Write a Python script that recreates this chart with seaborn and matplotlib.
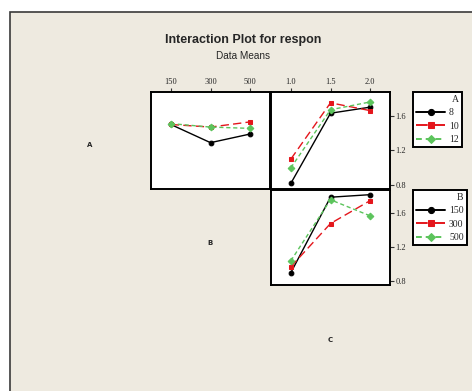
import matplotlib
matplotlib.use("Agg")
import matplotlib.pyplot as plt
import seaborn as sns
import pandas as pd
from matplotlib.patches import Rectangle

# ---- data ----
B_levels = ["150", "300", "500"]
C_levels = ["1.0", "1.5", "2.0"]
A_levels = ["8", "10", "12"]

# A x B (response vs B, one line per A)
AB_8 = [1.50, 1.29, 1.39]
AB_10 = [1.50, 1.47, 1.53]
AB_12 = [1.51, 1.47, 1.455]
# A x C (response vs C, one line per A)
AC_8 = [0.82, 1.63, 1.70]
AC_10 = [1.10, 1.75, 1.66]
AC_12 = [1.00, 1.67, 1.76]
# B x C (response vs C, one line per B)
BC_150 = [0.90, 1.79, 1.82]
BC_300 = [0.97, 1.48, 1.75]
BC_500 = [1.04, 1.76, 1.57]

y_ticks = [0.8, 1.2, 1.6]

def long(xlevels, series, names, hue):
    rows = []
    for name, vals in zip(names, series):
        for x, v in zip(xlevels, vals):
            rows.append({"x": x, hue: name, "y": v})
    return pd.DataFrame(rows)

df_ab = long(B_levels, [AB_8, AB_10, AB_12], A_levels, "A")
df_ac = long(C_levels, [AC_8, AC_10, AC_12], A_levels, "A")
df_bc = long(C_levels, [BC_150, BC_300, BC_500], B_levels, "B")

colors = ["#000000", "#E4161C", "#5CC45C"]
markers = ["o", "s", "D"]
linestyles = ["-", (0, (6, 3)), (0, (3, 2))]

sns.set_theme(style="white")
plt.rcParams["font.family"] = ["DejaVu Sans"]

W, H = 472, 391
fig = plt.figure(figsize=(W / 100, H / 100), dpi=100, facecolor="white")

# outer frame
frame = Rectangle((10 / W, -0.2), 1.3, 1.2 - 12 / H,
                  transform=fig.transFigure, facecolor="#EEEAE0",
                  edgecolor="#3a3a3a", linewidth=1.2, zorder=-5)
fig.patches.append(frame)

def px_axes(x0, y0, x1, y1):
    a = fig.add_axes([x0 / W, 1 - y1 / H, (x1 - x0) / W, (y1 - y0) / H])
    a.set_zorder(2)
    return a

ax1 = px_axes(151, 92, 270, 189)
ax2 = px_axes(271, 92, 390, 189)
ax3 = px_axes(271, 190, 390, 285)

ylim = (0.755, 1.875)
serif = ["Liberation Serif", "DejaVu Serif"]

def draw(ax, df, hue, order):
    sns.pointplot(data=df, x="x", y="y", hue=hue, hue_order=order, ax=ax,
                  palette=colors, markers=markers, linestyles=linestyles,
                  errorbar=None, markersize=3.4, linewidth=1.0, legend=True)
    h, l = ax.get_legend_handles_labels()
    if ax.get_legend() is not None:
        ax.get_legend().remove()
    ax.set_xlim(-0.5, 2.5)
    ax.set_ylim(*ylim)
    ax.set_xlabel("")
    ax.set_ylabel("")
    ax.set_facecolor("white")
    for s in ax.spines.values():
        s.set_color("black")
        s.set_linewidth(1.4)
    return h, l

hA, lA = draw(ax1, df_ab, "A", A_levels)
draw(ax2, df_ac, "A", A_levels)
hB, lB = draw(ax3, df_bc, "B", B_levels)

for ax in (ax1, ax2):
    ax.xaxis.tick_top()
    ax.tick_params(axis="x", top=True, bottom=False, length=3, width=0.8,
                   labelsize=6, pad=1, color="#333333")
    for t in ax.get_xticklabels():
        t.set_family(serif)
ax3.set_xticks([])

ax1.set_yticks([])
for ax in (ax2, ax3):
    ax.set_yticks(y_ticks)
    ax.set_yticklabels([f"{v:.1f}" for v in y_ticks])
    ax.yaxis.tick_right()
    ax.tick_params(axis="y", right=True, left=False, length=3, width=0.8,
                   labelsize=6, pad=1, color="#333333")
    for t in ax.get_yticklabels():
        t.set_family(serif)

def add_legend(h, l, title, y0):
    leg = fig.legend(h, l, title=title, loc="upper left",
                     bbox_to_anchor=(413 / W, 1 - y0 / H),
                     frameon=True, fancybox=False, framealpha=1,
                     edgecolor="black", facecolor="white",
                     prop={"family": serif, "size": 7},
                     title_fontproperties={"family": serif, "size": 7},
                     handlelength=3.0, handletextpad=0.4, borderpad=0.3,
                     labelspacing=0.45, alignment="right",
                     borderaxespad=0, markerscale=1.3)
    leg.get_frame().set_linewidth(1.4)
    for ln in leg.get_lines():
        ln.set_linewidth(1.4)
    return leg

add_legend(hA, lA, "A", 92)
add_legend(hB, lB, "B", 190)

fig.text(243 / W, 1 - 40 / H, "Interaction Plot for respon", ha="center",
         va="center", fontsize=9, fontweight="bold", family=["Liberation Sans"])
fig.text(243 / W, 1 - 56 / H, "Data Means", ha="center", va="center",
         fontsize=7.2, family=["Liberation Sans"])

for lab, x, y in [("A", 90, 145), ("B", 210, 243), ("C", 330, 340)]:
    fig.text(x / W, 1 - y / H, lab, ha="center", va="center", fontsize=5,
             fontweight="bold")

fig.savefig("out.png", dpi=100, facecolor="white")
